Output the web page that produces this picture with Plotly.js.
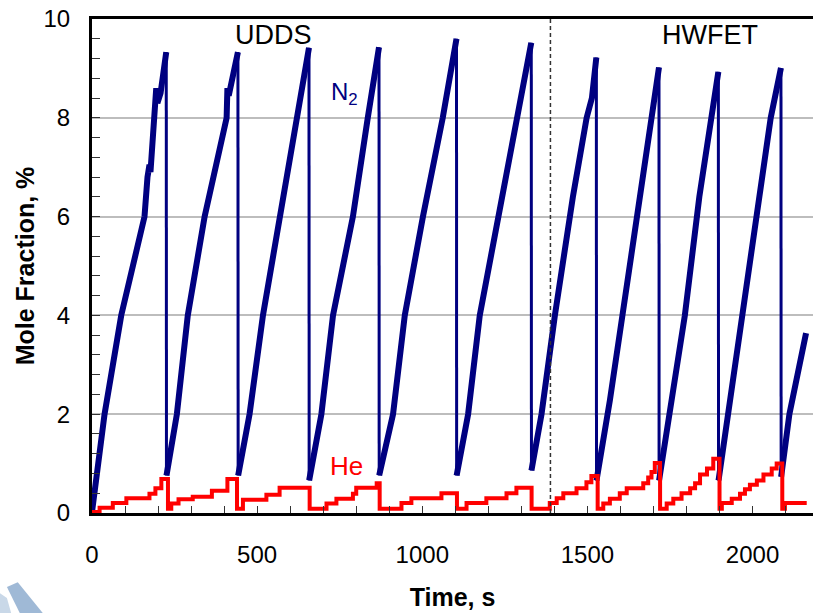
<!DOCTYPE html>
<html><head><meta charset="utf-8">
<script src="https://cdn.plot.ly/plotly-3.0.1.min.js"></script>
<style>html,body{margin:0;padding:0;background:#fff}#chart{width:813px;height:613px}</style>
</head><body><div id="chart"></div>
<script>
// N2 mole fraction (%) vs time (s); a drop is two points close in time
const n2Time = [0, 38, 88.5, 159, 168, 174, 177, 194.5, 198, 207.6, 224.8,
  225.5, 257, 290, 341, 407.6, 410, 414, 441.8,
  442.5, 477, 517.6, 568, 618, 633, 657,
  657.5, 694.5, 729.7, 790, 835, 869,
  869.5, 911.5, 947, 1002, 1062, 1103.6,
  1104, 1138.8, 1174, 1229.7, 1285.5, 1300, 1330,
  1330.5, 1361, 1401.5, 1456, 1497.6, 1513.6, 1527,
  1527.5, 1568, 1606, 1659, 1694.5, 1716.7,
  1717, 1755, 1795, 1838.8, 1873, 1896.4,
  1897, 1925.8, 1966, 2016.7, 2055, 2086,
  2086.5, 2111.5, 2162];
const n2Value = [0.02, 2.0, 4.0, 6.0, 6.8, 7.05, 6.9, 8.6, 8.3, 8.5, 9.33,
  0.76, 2.0, 4.0, 6.0, 8.0, 8.6, 8.45, 9.33,
  0.76, 2.0, 4.0, 6.0, 8.0, 8.6, 9.42,
  0.66, 2.0, 4.0, 6.0, 8.0, 9.43,
  0.76, 2.0, 4.0, 6.0, 8.0, 9.6,
  0.76, 2.0, 4.0, 6.0, 8.0, 8.6, 9.52,
  0.86, 2.0, 4.0, 6.4, 8.0, 8.4, 9.22,
  0.66, 2.28, 4.0, 6.4, 8.0, 9.02,
  0.66, 2.28, 4.0, 6.4, 8.0, 8.93,
  0.66, 2.0, 4.0, 6.4, 8.0, 9.01,
  0.73, 2.0, 3.64];

// He mole fraction (%) step changes (value holds until next time)
const heTime = [0, 23, 63, 104, 174, 192, 210,
  230, 240, 262, 305, 363, 410,
  439, 457, 528, 568,
  659, 710, 740, 790, 800, 862,
  871, 937, 967, 1058,
  1105, 1134, 1194, 1255, 1285,
  1331, 1386, 1407, 1427, 1467, 1497, 1512,
  1531, 1548, 1568, 1598, 1619, 1669, 1684, 1694, 1704,
  1720, 1740, 1760, 1785, 1811, 1826, 1841, 1862, 1881,
  1900, 1907, 1937, 1962, 1977, 1992, 2013, 2033, 2058, 2073,
  2090, 2098, 2164];
const heValue = [0.02, 0.105, 0.2, 0.30, 0.39, 0.50, 0.69,
  0.085, 0.19, 0.28, 0.33, 0.45, 0.69,
  0.085, 0.27, 0.37, 0.51,
  0.085, 0.19, 0.29, 0.39, 0.51, 0.6,
  0.085, 0.2, 0.3, 0.4,
  0.085, 0.2, 0.3, 0.4, 0.51,
  0.085, 0.2, 0.3, 0.4, 0.5, 0.62, 0.75,
  0.085, 0.19, 0.29, 0.4, 0.5, 0.6, 0.72, 0.83, 1.01,
  0.085, 0.19, 0.29, 0.4, 0.5, 0.6, 0.78, 0.9, 1.1,
  0.085, 0.2, 0.29, 0.39, 0.48, 0.57, 0.66, 0.78, 0.9, 1.0,
  0.085, 0.2, 0.2];

const cycleBoundary = 1388;
const cycleNames = ['UDDS', 'HWFET'];
const cycleLabelX = [550, 1871];
const seriesLabels = ['N<sub>2</sub>', 'He'];

// split N2 into ramps and vertical drops
const rampX = [], rampY = [], dropX = [], dropY = [];
for (let i = 0; i < n2Time.length; i++) {
  if (i > 0 && n2Value[i] < n2Value[i - 1] - 3) {
    rampX.push(null); rampY.push(null);
    dropX.push(n2Time[i - 1], n2Time[i], null);
    dropY.push(n2Value[i - 1], n2Value[i], null);
  }
  rampX.push(n2Time[i]); rampY.push(n2Value[i]);
}

const NAVY = '#000080', RED = '#ff0000';
const FONT = 'Liberation Sans, Arial, sans-serif';

const traces = [
  {x: dropX, y: dropY, mode: 'lines', line: {color: NAVY, width: 3}, hoverinfo: 'skip'},
  {x: rampX, y: rampY, mode: 'lines', line: {color: NAVY, width: 6}},
  {x: heTime, y: heValue, mode: 'lines', line: {color: RED, width: 4, shape: 'hv'}}
];

const layout = {
  width: 813, height: 613,
  margin: {l: 92, r: 0, t: 19, b: 100},
  paper_bgcolor: '#fff', plot_bgcolor: '#fff',
  showlegend: false,
  font: {family: FONT, color: '#000', size: 24},
  xaxis: {
    range: [0, 2183], dtick: 500, tick0: 0,
    ticks: 'inside', ticklen: 7, tickcolor: '#333', tickwidth: 1,
    minor: {dtick: 100, ticks: 'inside', ticklen: 7, tickcolor: '#333', tickwidth: 1, showgrid: false},
    showline: true, linecolor: '#000', linewidth: 3, mirror: true,
    showgrid: false, zeroline: false,
    tickfont: {size: 24, family: FONT, color: '#000'},
    ticklabelstandoff: 18,
    title: {text: 'Time, s', font: {size: 25, family: FONT, color: '#000', weight: 'bold'}, standoff: 22}
  },
  yaxis: {
    range: [0, 10], dtick: 2, tick0: 0,
    ticks: 'inside', ticklen: 8, tickcolor: '#333', tickwidth: 1,
    minor: {dtick: 0.4, ticks: 'inside', ticklen: 8, tickcolor: '#333', tickwidth: 1, showgrid: false},
    showline: true, linecolor: '#000', linewidth: 3,
    showgrid: true, gridcolor: '#bdbdbd', gridwidth: 2, zeroline: false,
    tickfont: {size: 24, family: FONT, color: '#000'},
    ticklabelstandoff: 14,
    title: {text: 'Mole Fraction, %', font: {size: 25, family: FONT, color: '#000', weight: 'bold'}, standoff: 2}
  },
  shapes: [
    {type: 'line', xref: 'x', yref: 'y', x0: cycleBoundary, x1: cycleBoundary, y0: 0, y1: 10,
     line: {color: '#333', width: 1.5, dash: '4px,3px'}},
    {type: 'path', xref: 'paper', yref: 'paper', layer: 'above',
     path: 'M -0.118 -0.150 L -0.103 -0.140 L -0.068 -0.203 L -0.100 -0.203 Z',
     fillcolor: '#9fb9d6', line: {width: 0}},
    {type: 'path', xref: 'paper', yref: 'paper', layer: 'above',
     path: 'M -0.128 -0.162 L -0.118 -0.172 L -0.112 -0.203 L -0.128 -0.203 Z',
     fillcolor: '#c9d8e8', line: {width: 0}}
  ],
  annotations: [
    {x: cycleLabelX[0], y: 9.68, xref: 'x', yref: 'y', text: cycleNames[0], showarrow: false,
     font: {size: 27, family: FONT, color: '#000'}},
    {x: cycleLabelX[1], y: 9.68, xref: 'x', yref: 'y', text: cycleNames[1], showarrow: false,
     font: {size: 27, family: FONT, color: '#000'}},
    {x: 765, y: 8.5, xref: 'x', yref: 'y', text: seriesLabels[0], showarrow: false,
     font: {size: 24, family: FONT, color: NAVY}},
    {x: 771, y: 0.95, xref: 'x', yref: 'y', text: seriesLabels[1], showarrow: false,
     font: {size: 26, family: FONT, color: RED}}
  ]
};

Plotly.newPlot('chart', traces, layout, {displayModeBar: false, staticPlot: true});
</script>
</body></html>
